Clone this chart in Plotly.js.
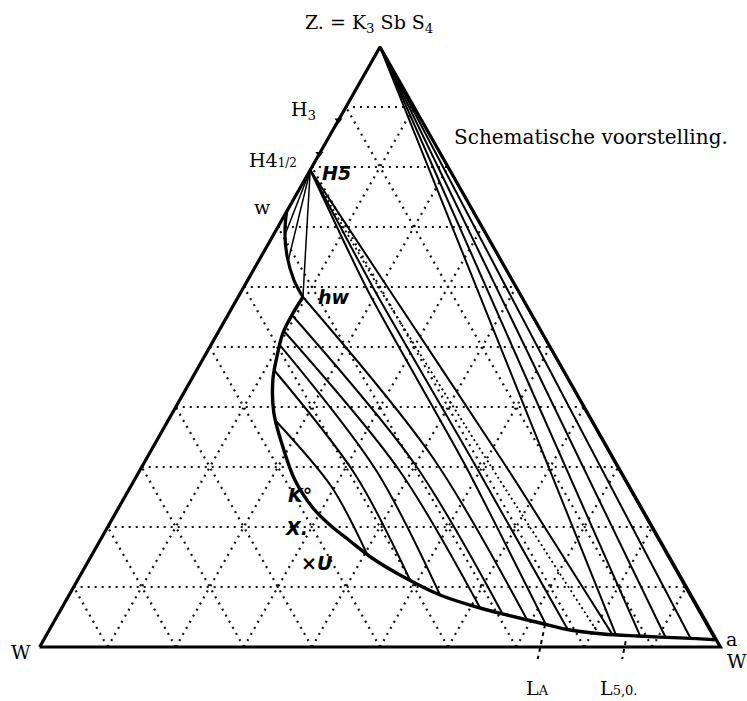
<!DOCTYPE html>
<html>
<head>
<meta charset="utf-8">
<script src="https://cdn.plot.ly/plotly-3.0.1.min.js"></script>
<style>html,body{margin:0;padding:0;background:#fff}</style>
</head>
<body>
<div id="chart" style="width:747px;height:701px"></div>
<script>
// Coordinates: x = position along the base (%), y = Z content (%), apex Z at (50,100)
const triangleX = [0, 100, 50, 0];
const triangleY = [0, 0, 100, 0];
const gridLevels = [10, 20, 30, 40, 50, 60, 70, 80, 90];

// hydrate points on the Z–W side
const h5Point = [39.75, 79.5];
const apexZ = [50, 100];
const hydrateTickX = [43.9, 41.1];
const hydrateTickY = [87.8, 82.2];

// saturation curve w → hw
const wCurveX = [36.3, 36.03, 36.32, 37.35, 38.68];
const wCurveY = [72.7, 69.17, 65.33, 61.17, 58.33];

// saturation curve hw → a
const mainCurveX = [38.68, 37.06, 35.74, 34.85, 34.26, 34.41, 35.74, 37.5, 40.15, 42.65, 45.59, 48.82,
  52.94, 58.82, 64.71, 68.68, 73.53, 77.94, 82.79, 87.79, 92.21, 96.5, 99.2];
const mainCurveY = [58.33, 55.33, 52.33, 48.33, 44.5, 39.0, 33.33, 27.83, 23.17, 20.33, 17.67, 14.83,
  12.0, 8.67, 6.5, 5.33, 4.0, 2.83, 2.17, 1.83, 1.6, 1.4, 1.2];

// tie lines H5 → w-branch
const wFanEndX = [36.03, 36.47, 38.68];
const wFanEndY = [68.67, 64.17, 58.33];

// conjugate lines across the curve
const chordX = [
  [38.68, 57.8, 71.62],
  [37.06, 55.2, 68.09],
  [35.88, 52.8, 64.71],
  [35.29, 49.4, 58.82],
  [34.56, 46.4, 54.41],
  [34.71, 42.9, 48.09]];
const chordY = [
  [58.33, 31.5, 4.5],
  [55.33, 30.33, 5.33],
  [52.67, 29.5, 6.5],
  [50.33, 29.5, 8.67],
  [46.0, 28.67, 11.17],
  [37.67, 26.67, 15.5]];

// tie lines from H5 to the lower branch
const h5TieX = [
  [39.75, 48.24, 62.5, 74.26],
  [39.75, 49.26, 63.97, 77.5],
  [39.75, 51.47, 68.38, 84.12]];
const h5TieY = [
  [79.5, 59.33, 30.33, 4.0],
  [79.5, 59.33, 30.33, 3.1],
  [79.5, 59.33, 30.33, 2.1]];
const h5DottedX = [39.75, 50.15, 66.18, 82.06];
const h5DottedY = [79.5, 59.33, 30.33, 2.3];

// tie lines from Z to the end of the curve
const zTieEndX = [84.6, 88.2, 91.9, 95.6, 99.2];
const zTieEndY = [2.2, 1.9, 1.7, 1.5, 1.2];

// leaders for L_A and L_5.0
const leaderAX = [72.9, 74.3], leaderAY = [-3.4, 4.0];
const leader50X = [85.3, 86.2], leader50Y = [-3.6, 1.6];

const xRange = [-2, 102], yRange = [-2, 102];

function joinLines(xs, ys) {
  const X = [], Y = [];
  xs.forEach((row, i) => { X.push(...row, null); Y.push(...ys[i], null); });
  return [X, Y];
}

// ternary grid
const gX = [], gY = [];
gridLevels.forEach(k => {
  gX.push(k / 2, 100 - k / 2, null); gY.push(k, k, null);
  gX.push(k, k + (100 - k) / 2, null); gY.push(0, 100 - k, null);
  gX.push(k, k / 2, null); gY.push(0, k, null);
});

const [chX, chY] = joinLines(chordX, chordY);
const [hX, hY] = joinLines(h5TieX, h5TieY);
const fanX = [], fanY = [];
wFanEndX.forEach((x, i) => { fanX.push(h5Point[0], x, null); fanY.push(h5Point[1], wFanEndY[i], null); });
const zX = [], zY = [];
zTieEndX.forEach((x, i) => { zX.push(apexZ[0], x, null); zY.push(apexZ[1], zTieEndY[i], null); });

const base = {type: 'scatter', mode: 'lines', hoverinfo: 'skip', cliponaxis: false};
const traces = [
  Object.assign({}, base, {x: gX, y: gY, line: {color: '#111', width: 2.2, dash: '2px,5px'}}),
  Object.assign({}, base, {x: zX, y: zY, line: {color: '#000', width: 2}}),
  Object.assign({}, base, {x: hX, y: hY, line: {color: '#000', width: 2, shape: 'spline', smoothing: 0.6}}),
  Object.assign({}, base, {x: h5DottedX, y: h5DottedY, line: {color: '#000', width: 1.8, dash: '2px,3px', shape: 'spline', smoothing: 0.6}}),
  Object.assign({}, base, {x: chX, y: chY, line: {color: '#000', width: 2, shape: 'spline', smoothing: 0.9}}),
  Object.assign({}, base, {x: fanX, y: fanY, line: {color: '#000', width: 1.5}}),
  Object.assign({}, base, {x: triangleX, y: triangleY, line: {color: '#000', width: 3.2}}),
  Object.assign({}, base, {x: wCurveX, y: wCurveY, line: {color: '#000', width: 3.2, shape: 'spline', smoothing: 1}}),
  Object.assign({}, base, {x: mainCurveX, y: mainCurveY, line: {color: '#000', width: 3.4, shape: 'spline', smoothing: 1}}),
  Object.assign({}, base, {x: leaderAX, y: leaderAY, line: {color: '#000', width: 2, dash: '4px,4px'}}),
  Object.assign({}, base, {x: leader50X, y: leader50Y, line: {color: '#000', width: 2, dash: '4px,4px'}}),
  Object.assign({}, base, {x: hydrateTickX, y: hydrateTickY, mode: 'markers',
    marker: {symbol: 'triangle-down', size: 7, color: '#000'}})
];

const serif = {family: 'DejaVu Serif, Liberation Serif, serif', size: 19, color: '#000'};
const hand = {family: 'DejaVu Sans, sans-serif', size: 19, color: '#000'};
// labels are placed in paper units derived from the composition coordinates
function lab(text, x, y, font, extra) {
  return Object.assign({text: text,
    x: (x - xRange[0]) / (xRange[1] - xRange[0]), y: (y - yRange[0]) / (yRange[1] - yRange[0]),
    xref: 'paper', yref: 'paper', showarrow: false,
    xanchor: 'center', yanchor: 'middle', font: font}, extra || {});
}
const annotations = [
  lab('Z. = K<sub>3</sub> Sb S<sub>4</sub>', 48.4, 104, serif),
  lab('H<sub>3</sub>', 38.7, 89.5, serif),
  lab('H4<span style="font-size:12px">1/2</span>', 34.3, 81.2, serif),
  lab('<b><i>H5</i></b>', 43.6, 79.0, hand),
  lab('w', 32.8, 73.3, serif),
  lab('<b><i>hw</i></b>', 43.2, 58.3, hand),
  lab('<b><i>K°</i></b>', 38.3, 25.3, hand),
  lab('<b><i>X.</i></b>', 37.7, 19.8, hand),
  lab('<b><i>×U</i></b>', 40.7, 14.0, hand),
  lab('Schematische voorstelling.', 81.0, 85.0, Object.assign({}, serif, {size: 20})),
  lab('a', 101.6, 1.4, serif),
  lab('W', 102.4, -2.4, serif),
  lab('W', -2.8, -0.8, serif),
  lab('L<span style="font-size:13px">A</span>', 73.1, -6.8, serif),
  lab('L<span style="font-size:13px">5,0.</span>', 85.1, -6.8, serif)
];

const layout = {
  width: 747, height: 701, autosize: false,
  margin: {l: 26, r: 13, t: 35, b: 42},
  paper_bgcolor: '#fff', plot_bgcolor: '#fff',
  showlegend: false,
  xaxis: {range: xRange, visible: false, fixedrange: true},
  yaxis: {range: yRange, visible: false, fixedrange: true},
  annotations: annotations
};

Plotly.newPlot('chart', traces, layout, {staticPlot: true, displayModeBar: false});
</script>
</body>
</html>
